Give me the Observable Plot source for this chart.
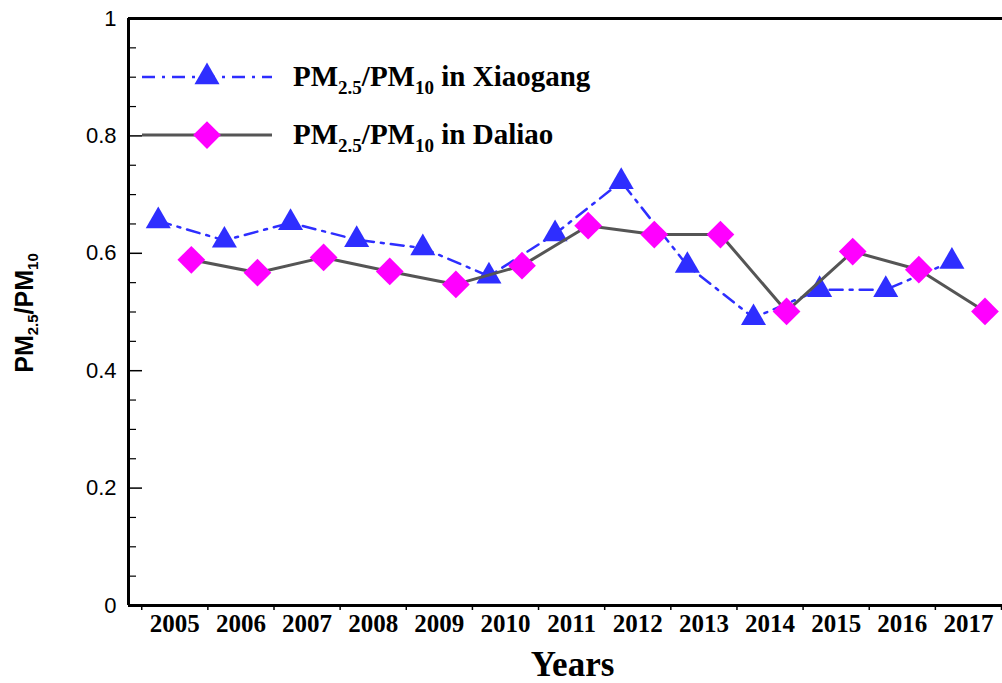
<!DOCTYPE html>
<html><head><meta charset="utf-8">
<script src="https://cdn.jsdelivr.net/npm/d3@7"></script>
<script src="https://cdn.jsdelivr.net/npm/@observablehq/plot@0.6"></script>
<style>html,body{margin:0;padding:0;background:#fff;} #chart{width:1002px;height:683px;overflow:hidden;}</style>
</head><body><div id="chart"></div>
<script>
// ---- data ----
const years = [2005, 2006, 2007, 2008, 2009, 2010, 2011, 2012, 2013, 2014, 2015, 2016, 2017];
const xiaogang = [0.655, 0.622, 0.652, 0.623, 0.609, 0.561, 0.633, 0.722, 0.579, 0.490, 0.538, 0.538, 0.586];
const daliao   = [0.589, 0.567, 0.593, 0.569, 0.547, 0.579, 0.647, 0.632, 0.632, 0.501, 0.603, 0.572, 0.501];
const yTicks = [0, 0.2, 0.4, 0.6, 0.8, 1];
const yTickLabels = ["0", "0.2", "0.4", "0.6", "0.8", "1"];
const seriesNames = ["Xiaogang", "Daliao"];
const xLabel = "Years";

// ---- layout / style ----
const W = 1002, H = 683, ML = 128, MR = 0, MT = 18, MB = 78;
const BLUE = "#2e2eff", MAGENTA = "#ff00ff", GRAY = "#555555";
const SERIF = "'Liberation Serif','Times New Roman',Times,serif";
const SANS = "'Liberation Sans',Arial,Helvetica,sans-serif";
const X0 = 2004.8, X1 = 2018.015;
const DASH = "13,7,3,7";
const TRI_R = 9.3, DIA_R = 12.5;
const frameW = W - ML - MR, frameH = H - MT - MB;

const boundaries = d3.range(years[0], years[years.length - 1] + 2);
const yMinor = d3.range(1, 20).map(i => i / 20).filter(v => Math.round(v * 20) % 4 !== 0);

const rowsX = years.map((yr, i) => ({x: yr + 0.25, y: xiaogang[i]}));
const rowsD = years.map((yr, i) => ({x: yr + 0.75, y: daliao[i]}));

const plot = Plot.plot({
  width: W, height: H, marginLeft: ML, marginRight: MR, marginTop: MT, marginBottom: MB,
  x: {domain: [X0, X1]},
  y: {domain: [0, 1]},
  style: {background: "white", overflow: "visible"},
  marks: [
    // y tick labels
    Plot.axisY(yTicks, {tickSize: 0, tickPadding: 12, tickFormat: d => yTickLabels[yTicks.indexOf(d)],
      fontSize: 22, fontFamily: SANS, label: null}),
    // x tick labels (centered on each year span)
    Plot.axisX(years.map(y => y + 0.5), {tickSize: 0, tickPadding: 9, tickFormat: d => String(Math.floor(d)),
      fontSize: 25, fontWeight: "bold", fontFamily: SERIF, label: null}),
    // inward y ticks
    Plot.tickY(yTicks, {y: d => d, insetRight: frameW - 14, stroke: "black", strokeWidth: 1.5}),
    Plot.tickY(yMinor, {y: d => d, insetRight: frameW - 8, stroke: "black", strokeWidth: 1.2}),
    // outward x ticks at year boundaries
    Plot.tickX(boundaries, {x: d => d, insetTop: frameH, insetBottom: -5, stroke: "black", strokeWidth: 1.5}),
    // axis lines
    Plot.ruleY([0, 1], {y: d => d, stroke: "black", strokeWidth: 3}),
    Plot.ruleX([X0], {x: d => d, stroke: "black", strokeWidth: 3}),
    // series
    Plot.line(rowsX, {x: "x", y: "y", stroke: BLUE, strokeWidth: 2.5, strokeDasharray: DASH}),
    Plot.dot(rowsX, {x: "x", y: "y", symbol: "triangle", r: TRI_R, fill: BLUE, stroke: "none"}),
    Plot.line(rowsD, {x: "x", y: "y", stroke: GRAY, strokeWidth: 3}),
    Plot.dot(rowsD, {x: "x", y: "y", symbol: "diamond2", r: DIA_R, fill: MAGENTA, stroke: "none"}),
    // x title
    Plot.text([xLabel], {frameAnchor: "bottom", dx: 7, dy: 59, lineAnchor: "middle",
      fontSize: 35, fontWeight: "bold", fontFamily: SERIF, fill: "black"})
  ]
});

document.getElementById("chart").appendChild(plot);
const svgNode = plot.tagName.toLowerCase() === "svg" ? plot : plot.querySelector("svg");
const svg = d3.select(svgNode);

// ---- legend ----
const legendItems = [
  {name: seriesNames[0], color: BLUE, dash: DASH, width: 2.5, symbol: d3.symbolTriangle, r: TRI_R, fill: BLUE, y: 77},
  {name: seriesNames[1], color: GRAY, dash: null, width: 3, symbol: d3.symbolDiamond2, r: DIA_R, fill: MAGENTA, y: 135}
];
const lg = svg.append("g");
legendItems.forEach(it => {
  lg.append("line").attr("x1", 142).attr("x2", 272).attr("y1", it.y).attr("y2", it.y)
    .attr("stroke", it.color).attr("stroke-width", it.width).attr("stroke-dasharray", it.dash);
  lg.append("path").attr("d", d3.symbol(it.symbol, Math.PI * it.r * it.r)())
    .attr("transform", `translate(207,${it.y})`).attr("fill", it.fill);
  const t = lg.append("text").attr("x", 293).attr("y", it.y + 9).attr("text-anchor", "start")
    .attr("font-family", SERIF).attr("font-weight", "bold").attr("font-size", 29).attr("fill", "black");
  t.append("tspan").text("PM");
  t.append("tspan").attr("font-size", 19).attr("dy", 8).text("2.5");
  t.append("tspan").attr("dy", -8).text("/PM");
  t.append("tspan").attr("font-size", 19).attr("dy", 8).text("10");
  t.append("tspan").attr("dy", -8).text("\u00a0in " + it.name);
});

// ---- y title ----
const yt = svg.append("text").attr("transform", "translate(33,313) rotate(-90)")
  .attr("text-anchor", "middle").attr("font-family", SANS).attr("font-weight", "bold")
  .attr("font-size", 25).attr("fill", "black");
yt.append("tspan").text("PM");
yt.append("tspan").attr("font-size", 15).attr("dy", 5).text("2.5");
yt.append("tspan").attr("dy", -5).text("/PM");
yt.append("tspan").attr("font-size", 15).attr("dy", 5).text("10");
</script>
</body></html>
